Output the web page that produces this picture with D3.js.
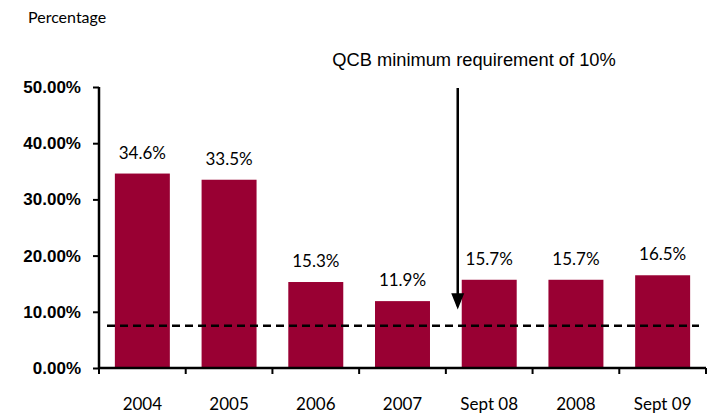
<!DOCTYPE html>
<html>
<head>
<meta charset="utf-8">
<script src="https://cdn.jsdelivr.net/npm/d3@7"></script>
<style>
  body { margin: 0; background: #fff; }
  svg { display: block; }
</style>
</head>
<body>
<div id="chart"></div>
<script>
'use strict';

const categories = ['2004', '2005', '2006', '2007', 'Sept 08', '2008', 'Sept 09'];
const ratios = [34.6, 33.5, 15.3, 11.9, 15.7, 15.7, 16.5];
const yTicks = [0, 10, 20, 30, 40, 50];
const minimumLine = 7.5;
const arrowCategory = 'Sept 08';

const width = 709,
    height = 415;

const margin = { top: 87, right: 3, bottom: 47, left: 99 };

let svg = d3.select('#chart').append('svg')
    .attr('width', width)
    .attr('height', height);

let x = d3.scaleBand()
    .domain(categories)
    .range([margin.left, width - margin.right])
    .paddingInner(0.366)
    .paddingOuter(0.183);

let y = d3.scaleLinear()
    .domain([0, 50])
    .range([height - margin.bottom, margin.top]);

// y axis label
svg.append('text')
    .attr('x', 28)
    .attr('y', 23)
    .attr('font-family', 'Lato, sans-serif')
    .attr('font-size', 16)
    .text('Percentage');

// bars
svg.append('g')
    .selectAll('rect')
    .data(ratios)
    .enter()
    .append('rect')
    .attr('x', function (d, i) { return x(categories[i]); })
    .attr('y', function (d) { return y(d); })
    .attr('width', x.bandwidth())
    .attr('height', function (d) { return y(0) - y(d); })
    .style('fill', '#990033');

// value labels
svg.append('g')
    .selectAll('text')
    .data(ratios)
    .enter()
    .append('text')
    .attr('x', function (d, i) { return x(categories[i]) + x.bandwidth() / 2; })
    .attr('y', function (d) { return y(d) - 15; })
    .attr('text-anchor', 'middle')
    .attr('font-family', 'Lato, sans-serif')
    .attr('font-size', 17)
    .text(function (d) { return d.toFixed(1) + '%'; });

// minimum requirement dashed line
svg.append('line')
    .attr('x1', margin.left + 8)
    .attr('x2', width - 10)
    .attr('y1', y(minimumLine))
    .attr('y2', y(minimumLine))
    .style('stroke', '#000')
    .style('stroke-width', 2.5)
    .style('stroke-dasharray', '8,5');

// y axis
let yAxis = svg.append('g')
    .attr('transform', 'translate(' + margin.left + ',0)')
    .call(d3.axisLeft(y).tickValues(yTicks).tickSize(6).tickPadding(12)
        .tickFormat(function (d) { return d.toFixed(2) + '%'; }));

yAxis.select('.domain').attr('d', 'M0,' + y(0) + 'V' + y(50)).style('stroke-width', 2.5);
yAxis.selectAll('.tick line').style('stroke-width', 2);
yAxis.selectAll('text')
    .attr('font-family', '"Liberation Sans", Arial, sans-serif')
    .attr('font-weight', 'bold')
    .attr('font-size', 17)
    .attr('fill', '#000');

// x axis
let xAxis = svg.append('g')
    .attr('transform', 'translate(0,' + y(0) + ')');

xAxis.append('line')
    .attr('x1', margin.left)
    .attr('x2', width - margin.right)
    .style('stroke', '#000')
    .style('stroke-width', 2.5);

let step = x.step();
let boundaries = d3.range(categories.length + 1).map(function (i) {
    return x(categories[0]) - x.paddingInner() * step / 2 + i * step;
});

xAxis.selectAll('.xtick')
    .data(boundaries)
    .enter()
    .append('line')
    .attr('x1', function (d) { return d; })
    .attr('x2', function (d) { return d; })
    .attr('y1', 0)
    .attr('y2', 6)
    .style('stroke', '#000')
    .style('stroke-width', 2);

xAxis.selectAll('.xlabel')
    .data(categories)
    .enter()
    .append('text')
    .attr('x', function (d) { return x(d) + x.bandwidth() / 2; })
    .attr('y', 42)
    .attr('text-anchor', 'middle')
    .attr('font-family', 'Lato, sans-serif')
    .attr('font-size', 17)
    .text(function (d) { return d; });

// annotation with arrow
let arrowX = x(arrowCategory) - 4;

svg.append('text')
    .attr('x', 474)
    .attr('y', 66)
    .attr('text-anchor', 'middle')
    .attr('font-family', '"Liberation Sans", Arial, sans-serif')
    .attr('font-size', 18.3)
    .text('QCB minimum requirement of 10%');

svg.append('line')
    .attr('x1', arrowX)
    .attr('x2', arrowX)
    .attr('y1', 88)
    .attr('y2', y(11))
    .style('stroke', '#000')
    .style('stroke-width', 2.5);

svg.append('path')
    .attr('d', 'M' + (arrowX - 6.5) + ',' + y(13.3) + 'L' + (arrowX + 6.5) + ',' + y(13.3) + 'L' + arrowX + ',' + y(10.4) + 'Z')
    .style('fill', '#000');
</script>
</body>
</html>
